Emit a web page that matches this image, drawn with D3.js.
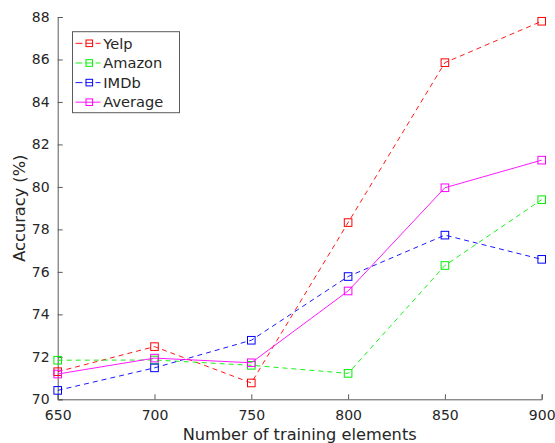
<!DOCTYPE html>
<html><head><meta charset="utf-8">
<script src="https://cdn.jsdelivr.net/npm/d3@7"></script>
<style>body{margin:0;background:#fff}svg{display:block}text{font-family:"DejaVu Sans",sans-serif;fill:#262626}</style>
</head><body>
<svg id="c" width="555" height="443"></svg>
<script>
const xValues = [650, 700, 750, 800, 850, 900];
const yelp    = [71.30, 72.48, 70.77, 78.32, 85.85, 87.80];
const amazon  = [71.84, 71.85, 71.60, 71.22, 76.30, 79.40];
const imdb    = [70.42, 71.48, 72.78, 75.78, 77.73, 76.59];
const average = [71.19, 71.94, 71.72, 75.10, 79.96, 81.26];
const xTicks = [650, 700, 750, 800, 850, 900];
const yTicks = [70, 72, 74, 76, 78, 80, 82, 84, 86, 88];
const seriesNames = ["Yelp", "Amazon", "IMDb", "Average"];
const seriesColors = ["#ff0000", "#00ee00", "#0000ff", "#ff00ff"];
const seriesDashed = [true, true, true, false];
const seriesData = [yelp, amazon, imdb, average];

const svg = d3.select("#c");
const L = 57.7, R = 541.7, T = 17, B = 399.3;
const x = d3.scaleLinear().domain([650, 900]).range([L, R]);
const y = d3.scaleLinear().domain([70, 88]).range([B, T]);

const axisColor = "#5a5a5a";
const xAxis = svg.append("g").attr("transform", `translate(0,${B})`)
  .call(d3.axisBottom(x).tickValues(xTicks).tickSize(-5).tickPadding(9).tickFormat(d3.format("d")));
const yAxis = svg.append("g").attr("transform", `translate(${L},0)`)
  .call(d3.axisLeft(y).tickValues(yTicks).tickSize(-5).tickPadding(8).tickFormat(d3.format("d")));
[xAxis, yAxis].forEach(a => {
  a.select(".domain").attr("stroke", axisColor).attr("stroke-width", 1);
  a.selectAll(".tick line").attr("stroke", axisColor).attr("stroke-width", 1);
  a.selectAll(".tick text").attr("font-size", 14).attr("fill", "#262626")
    .style("font-family", '"DejaVu Sans", sans-serif');
});
xAxis.selectAll(".tick text").attr("dy", null).attr("y", 21);

svg.append("text").attr("x", (L + R) / 2).attr("y", 439.5).attr("text-anchor", "middle")
  .attr("font-size", 16.2).text("Number of training elements");
svg.append("text").attr("transform", `translate(25,${(T + B) / 2}) rotate(-90)`)
  .attr("text-anchor", "middle").attr("font-size", 16.2).text("Accuracy (%)");

const line = d3.line().x((d, i) => x(xValues[i])).y(d => y(d));
const ms = 7.6;
seriesData.forEach((data, k) => {
  const g = svg.append("g");
  g.append("path").datum(data).attr("d", line).attr("fill", "none")
    .attr("stroke", seriesColors[k]).attr("stroke-width", 0.9)
    .attr("stroke-dasharray", seriesDashed[k] ? "5,4" : null);
  g.selectAll("rect").data(data).enter().append("rect")
    .attr("x", (d, i) => x(xValues[i]) - ms / 2).attr("y", d => y(d) - ms / 2)
    .attr("width", ms).attr("height", ms).attr("fill", "none")
    .attr("stroke", seriesColors[k]).attr("stroke-width", 1);
});

// legend
const lg = svg.append("g");
lg.append("rect").attr("x", 72.5).attr("y", 31.7).attr("width", 107).attr("height", 81)
  .attr("fill", "#fff").attr("stroke", axisColor).attr("stroke-width", 1);
const rowY = [43.3, 63.0, 82.6, 102.2];
seriesNames.forEach((name, k) => {
  const yy = rowY[k];
  lg.append("line").attr("x1", 75.5).attr("x2", 100.5).attr("y1", yy).attr("y2", yy)
    .attr("stroke", seriesColors[k]).attr("stroke-width", 0.9)
    .attr("stroke-dasharray", seriesDashed[k] ? "7,3" : null);
  lg.append("rect").attr("x", 89.3 - 3.3).attr("y", yy - 3.3).attr("width", 6.6).attr("height", 6.6)
    .attr("fill", "none").attr("stroke", seriesColors[k]).attr("stroke-width", 1);
  lg.append("text").attr("x", 103.3).attr("y", yy).attr("dy", "0.36em")
    .attr("font-size", 14.6).text(name);
});
</script>
</body></html>
